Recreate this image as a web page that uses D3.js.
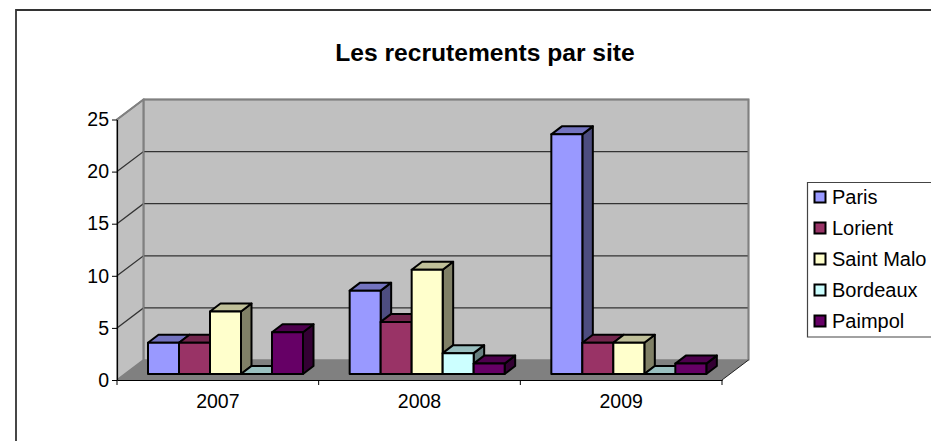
<!DOCTYPE html>
<html><head><meta charset="utf-8">
<script src="https://cdnjs.cloudflare.com/ajax/libs/d3/7.8.5/d3.min.js"></script>
<style>html,body{margin:0;padding:0;background:#fff}svg{display:block}text{font-family:"Liberation Sans",Arial,sans-serif;fill:#000}</style>
</head><body><div id="c"></div>
<script>
const title = "Les recrutements par site";
const years = ["2007","2008","2009"];
const seriesNames = ["Paris","Lorient","Saint Malo","Bordeaux","Paimpol"];
const seriesColors = ["#9999FF","#993366","#FFFFCC","#CCFFFF","#660066"];
const paris = [3,8,23];
const lorient = [3,5,3];
const saintMalo = [6,10,3];
const bordeaux = [0,2,0];
const paimpol = [4,1,1];
const seriesValues = [paris,lorient,saintMalo,bordeaux,paimpol];
const yTicks = [0,5,10,15,20,25];

const W=931,H=441;
const L=117,R=722,B=380,T=119.5;
const DX=26.5,DY=-20;        // wall depth
const bx=10.5,by=-8;         // bar depth
const baseDX=0,baseDY=-6;    // bar plane shift

const svg=d3.select("#c").append("svg").attr("width",W).attr("height",H);
const x=d3.scaleBand().domain(years).range([L,R]);
const xs=d3.scaleBand().domain(seriesNames).range([31,186]);
const y=d3.scaleLinear().domain([0,25]).range([B,T]);
const poly=p=>p.map(d=>d.join(",")).join(" ");

// outer frame
svg.append("path").attr("d",`M16,441V10H931`).attr("fill","none").attr("stroke","#333").attr("stroke-width",1.8);

// title
svg.append("text").attr("x",485).attr("y",61).attr("text-anchor","middle")
  .attr("font-size",24.6).attr("font-weight","bold").text(title);

// walls and floor
const g=svg.append("g");
g.append("polygon").attr("points",poly([[L+DX,T+DY],[R+DX,T+DY],[R+DX,B+DY],[L+DX,B+DY]])).attr("fill","#C0C0C0").attr("stroke","#808080").attr("stroke-width",1.6);
g.append("polygon").attr("points",poly([[L,T],[L+DX,T+DY],[L+DX,B+DY],[L,B]])).attr("fill","#C0C0C0").attr("stroke","#808080").attr("stroke-width",1.6);
g.append("polygon").attr("points",poly([[L,B],[L+DX,B+DY],[R+DX,B+DY],[R,B]])).attr("fill","#808080");

// gridlines
g.selectAll("path.grid").data(yTicks.filter(d=>d>0&&d<25)).join("path").attr("class","grid")
  .attr("d",d=>`M${L},${y(d)}L${L+DX},${y(d)+DY}L${R+DX},${y(d)+DY}`)
  .attr("fill","none").attr("stroke","#333").attr("stroke-width",1.3);

// re-stroke wall edges over the grid
g.append("path").attr("d",`M${L},${T}L${L+DX},${T+DY}L${R+DX},${T+DY}L${R+DX},${B+DY}`).attr("fill","none").attr("stroke","#808080").attr("stroke-width",1.8);
g.append("path").attr("d",`M${L+DX},${T+DY}V${B+DY}`).attr("stroke","#808080").attr("stroke-width",1.8);
g.append("path").attr("d",`M${R},${B}L${R+DX},${B+DY}`).attr("stroke","#222").attr("stroke-width",1);

// bars
const cellData=[];
years.forEach((yr,i)=>seriesNames.forEach((s,j)=>cellData.push({yr,s,j,v:seriesValues[j][i]})));
const bars=svg.append("g").attr("stroke","#000").attr("stroke-width",2).attr("stroke-linejoin","round");
const bar=bars.selectAll("g").data(cellData).join("g");
const geom=d=>{const x0=x(d.yr)+xs(d.s)+baseDX,x1=x0+xs.bandwidth(),b=y(0)+baseDY,t=y(d.v)+baseDY;return{x0,x1,b,t}};
const mix=(c,k)=>{const r=d3.rgb(c);return d3.rgb(r.r*k,r.g*k,r.b*k).formatHex()};
bar.append("polygon").attr("points",d=>{const g=geom(d);return poly([[g.x1,g.b],[g.x1+bx,g.b+by],[g.x1+bx,g.t+by],[g.x1,g.t]])})
  .attr("fill",d=>mix(seriesColors[d.j],0.5));
bar.append("polygon").attr("points",d=>{const g=geom(d);return poly([[g.x0,g.t],[g.x0+bx,g.t+by],[g.x1+bx,g.t+by],[g.x1,g.t]])})
  .attr("fill",d=>mix(seriesColors[d.j],0.75));
bar.filter(d=>d.v>0).append("rect")
  .attr("x",d=>geom(d).x0).attr("y",d=>geom(d).t)
  .attr("width",xs.bandwidth()).attr("height",d=>geom(d).b-geom(d).t)
  .attr("fill",d=>seriesColors[d.j]);

// axes
const ay=svg.append("g").attr("transform",`translate(${L},0)`)
  .call(d3.axisLeft(y).tickValues(yTicks).tickSize(5).tickSizeOuter(0).tickPadding(3));
const ax=svg.append("g").attr("transform",`translate(0,${B})`)
  .call(d3.axisBottom(x).tickSize(0).tickPadding(14));
[ay,ax].forEach(a=>{a.select(".domain").attr("stroke","#000").attr("stroke-width",1.2);
  a.selectAll("line").attr("stroke","#000");
  a.selectAll("text").attr("font-family",'"Liberation Sans",Arial,sans-serif').attr("font-size",19.5).attr("fill","#000");});
ax.selectAll("text").attr("dy","0.71em");
ax.selectAll("line.b").data(years.map(d=>x(d)).concat([R])).join("line").attr("class","b")
  .attr("x1",d=>d).attr("x2",d=>d).attr("y1",0).attr("y2",5).attr("stroke","#000");

// legend
const lg=svg.append("g");
lg.append("path").attr("d","M931,182.5H807.5V337H931").attr("fill","#fff").attr("stroke","#444").attr("stroke-width",1.2);
const ly=d3.scalePoint().domain(seriesNames).range([197,321]);
lg.selectAll("rect.s").data(seriesNames).join("rect").attr("class","s")
  .attr("x",814.5).attr("y",d=>ly(d)-5.5).attr("width",11).attr("height",11)
  .attr("fill",(d,i)=>seriesColors[i]).attr("stroke","#000").attr("stroke-width",2);
lg.selectAll("text").data(seriesNames).join("text")
  .attr("x",832).attr("y",d=>ly(d)+7).attr("font-size",20).text(d=>d);
</script></body></html>
